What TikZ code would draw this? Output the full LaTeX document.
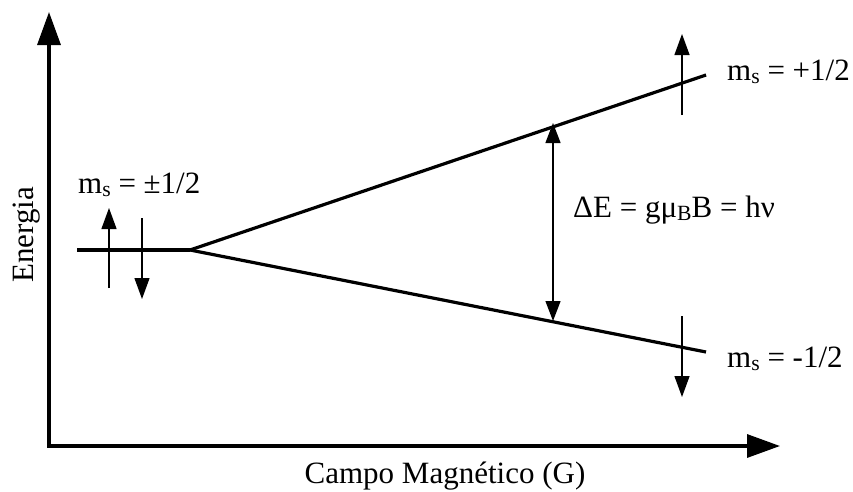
\documentclass[tikz,border=0pt]{standalone}
\usepackage{fontspec}
\usepackage{graphicx}
\setmainfont{Liberation Serif}
\usetikzlibrary{arrows.meta}
\newcommand{\lowsub}[1]{\raisebox{-0.28ex}{\scalebox{0.7}{#1}}}
\tikzset{
  axis/.style={line width=3.3pt, -{Triangle[length=33pt,width=23pt]}},
  level/.style={line width=3.2pt},
  spin/.style={line width=1.3pt, -{Triangle[length=21pt,width=15pt]}},
  gap/.style={line width=1.3pt, {Triangle[length=20pt,width=15pt]}-{Triangle[length=20pt,width=15pt]}},
  lbl/.style={font=\fontsize{31}{35}\selectfont, inner sep=0pt},
}
\begin{document}
\begin{tikzpicture}[x=1pt,y=-1pt]
\useasboundingbox (0,0) rectangle (853,491);
% axes
\coordinate (O) at (49,446);
\coordinate (Ytip) at (49,12);
\coordinate (Xtip) at (780,446);
\draw[axis] ([yshift=-1.6pt]O) -- (Ytip);
\draw[axis] ([xshift=-1.6pt]O) -- (Xtip);
% energy levels
\coordinate (L0) at (77,250);
\coordinate (S) at (190,250);
\coordinate (U) at (706,75);
\coordinate (D) at (706,352);
\draw[level] (L0) -- (S);
\draw[level] (S) -- (U);
\draw[level] (S) -- (D);
% spin arrows left
\coordinate (a1) at (109,288); \coordinate (a2) at (109,208);
\coordinate (b1) at (142,218); \coordinate (b2) at (142,299);
\draw[spin] (a1) -- (a2);
\draw[spin] (b1) -- (b2);
% spin arrows right
\coordinate (c1) at (682,115); \coordinate (c2) at (682,34);
\coordinate (d1) at (682,316); \coordinate (d2) at (682,397);
\draw[spin] (c1) -- (c2);
\draw[spin] (d1) -- (d2);
% gap arrow
\coordinate (g1) at (553,123); \coordinate (g2) at (553,321);
\draw[gap] (g1) -- (g2);
% labels
\node[lbl, anchor=base west] (t0) at (78,193) {m\lowsub{s} = ±1/2};
\node[lbl, anchor=base west] (tu) at (727,80) {m\lowsub{s} = +1/2};
\node[lbl, anchor=base west] (td) at (727,367) {m\lowsub{s} = -1/2};
\node[lbl, anchor=base west] (te) at (573,217) {ΔE = gμ\lowsub{B}B = hν};
\node[lbl, anchor=base] (tx) at (445,483) {Campo Magnético (G)};
\node[lbl, rotate=90, anchor=base] (ty) at (33,235) {Energia};
\end{tikzpicture}
\end{document}
